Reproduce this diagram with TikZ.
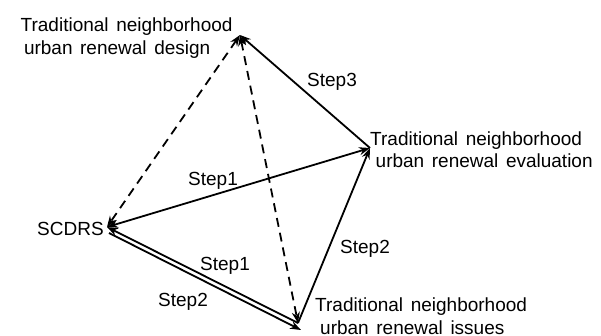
\documentclass[tikz,border=0pt]{standalone}
\usepackage{fontspec}
\setmainfont{Liberation Sans}
\usetikzlibrary{arrows.meta}
\newcommand\mylblfont{\fontsize{19}{22.5}\selectfont\spaceskip=7.6pt plus 1pt minus 1pt\relax}
\begin{document}
\begin{tikzpicture}[x=1pt,y=-1pt,
  lbl/.style={anchor=base west,inner sep=0pt,font=\mylblfont,align=left},
  conn/.style={line width=1.8pt,-{Stealth[length=11pt,width=8pt]}},
  biconn/.style={line width=1.8pt,{Stealth[length=11pt,width=8pt]}-{Stealth[length=11pt,width=8pt]}},
  dashconn/.style={biconn,dash pattern=on 9pt off 6pt}]
\useasboundingbox (0,0) rectangle (601,336);
\coordinate (D) at (240,35);
\coordinate (E) at (370,148);
\coordinate (S) at (107,227);
\coordinate (I) at (298,323);
\coordinate (S2) at (109,233);
\coordinate (I2) at (301,330);

\node[lbl] (design) at (20.5,54.5) {Traditional neighborhood\\\hspace*{3.3pt}urban renewal design};
\node[lbl] (eval) at (370,168) {Traditional neighborhood\\\hspace*{5.5pt}urban renewal evaluation};
\node[lbl] (issues) at (315,334) {Traditional neighborhood\\\hspace*{5pt}urban renewal issues};
\node[lbl] (scdrs) at (37,236) {SCDRS};
\node[lbl] (s3) at (307,87) {Step3};
\node[lbl] (s1a) at (188,186) {Step1};
\node[lbl] (s1b) at (200,270) {Step1};
\node[lbl] (s2a) at (158,306) {Step2};
\node[lbl] (s2b) at (340,253) {Step2};

\draw[conn] (E) -- (D);
\draw[biconn] (S) -- (E);
\draw[conn] (I) -- (E);
\draw[dashconn] (D) -- (S);
\draw[dashconn] (D) -- (I);
\draw[conn] (I) -- (S);
\draw[conn] (S2) -- (I2);
\end{tikzpicture}
\end{document}
